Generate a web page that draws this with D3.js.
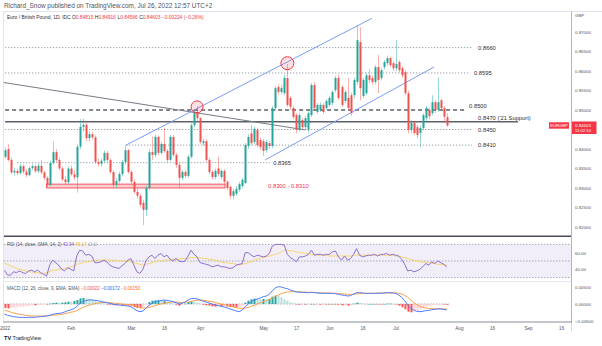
<!DOCTYPE html>
<html>
<head>
<meta charset="utf-8">
<script src="https://cdn.jsdelivr.net/npm/d3@7"></script>
<style>
html,body{margin:0;padding:0;background:#fff;}
svg{display:block;font-family:"Liberation Sans",Arial,sans-serif;}
</style>
</head>
<body>
<svg id="chart" width="602" height="346"></svg>
<script>
// EUR/GBP daily candles, 31 Dec 2021 – 26 Jul 2022 (one entry per trading day)
const openP = [0.8380,0.8400,0.8372,0.8340,0.8344,0.8338,0.8356,0.8342,0.8333,0.8351,0.8356,0.8343,0.8357,0.8340,0.8326,0.8308,0.8364,0.8392,0.8372,0.8350,
0.8322,0.8315,0.8350,0.8335,0.8327,0.8406,0.8457,0.8462,0.8428,0.8438,0.8430,0.8367,0.8362,0.8370,0.8390,0.8372,0.8341,0.8308,0.8318,0.8336,
0.8367,0.8397,0.8341,0.8316,0.8290,0.8280,0.8262,0.8244,0.8300,0.8392,0.8385,0.8431,0.8390,0.8413,0.8395,0.8372,0.8431,0.8385,0.8359,0.8326,
0.8341,0.8331,0.8380,0.8461,0.8495,0.8479,0.8415,0.8420,0.8372,0.8341,0.8328,0.8350,0.8328,0.8344,0.8316,0.8303,0.8280,0.8285,0.8296,0.8305,
0.8313,0.8408,0.8440,0.8418,0.8449,0.8423,0.8420,0.8397,0.8415,0.8408,0.8505,0.8559,0.8546,0.8543,0.8582,0.8531,0.8505,0.8487,0.8449,0.8474,
0.8456,0.8449,0.8487,0.8564,0.8495,0.8500,0.8513,0.8505,0.8513,0.8518,0.8551,0.8582,0.8559,0.8523,0.8531,0.8538,0.8538,0.8572,0.8674,0.8536,
0.8543,0.8589,0.8582,0.8572,0.8610,0.8582,0.8610,0.8620,0.8633,0.8620,0.8607,0.8623,0.8607,0.8597,0.8543,0.8449,0.8467,0.8456,0.8441,0.8454,
0.8479,0.8500,0.8492,0.8520,0.8500,0.8525,0.8505,0.84815];
const highP = [0.8404,0.8413,0.8378,0.8352,0.8350,0.8362,0.8360,0.8348,0.8356,0.8362,0.8360,0.8363,0.8372,0.8344,0.8330,0.8370,0.8419,0.8400,0.8378,0.8355,
0.8330,0.8356,0.8358,0.8345,0.8412,0.8477,0.8478,0.8468,0.8446,0.8443,0.8435,0.8375,0.8376,0.8396,0.8395,0.8376,0.8345,0.8325,0.8342,0.8372,
0.8410,0.8400,0.8346,0.8322,0.8298,0.8285,0.8270,0.8306,0.8400,0.8431,0.8436,0.8434,0.8418,0.8454,0.8400,0.8436,0.8436,0.8390,0.8364,0.8346,
0.8346,0.8385,0.8466,0.8500,0.8510,0.8482,0.8426,0.8425,0.8378,0.8346,0.8350,0.8380,0.8348,0.8348,0.8320,0.8306,0.8298,0.8305,0.8316,0.8326,
0.8415,0.8438,0.8462,0.8458,0.8455,0.8430,0.8426,0.8423,0.8420,0.8510,0.8562,0.8566,0.8563,0.8590,0.8618,0.8536,0.8510,0.8492,0.8492,0.8480,
0.8484,0.8497,0.8570,0.8572,0.8518,0.8520,0.8518,0.8528,0.8536,0.8551,0.8588,0.8590,0.8564,0.8551,0.8582,0.8545,0.8582,0.8718,0.8712,0.8582,
0.8595,0.8605,0.8588,0.8615,0.8641,0.8608,0.8628,0.8640,0.8638,0.8625,0.8679,0.8628,0.8612,0.8602,0.8550,0.8474,0.8472,0.8462,0.8460,0.8492,
0.8510,0.8505,0.8538,0.8525,0.8584,0.8530,0.8510,0.84916];
const lowP = [0.8375,0.8368,0.8335,0.8332,0.8333,0.8334,0.8336,0.8328,0.8330,0.8346,0.8338,0.8338,0.8335,0.8320,0.8302,0.8305,0.8360,0.8366,0.8345,0.8318,
0.8308,0.8310,0.8330,0.8320,0.8288,0.8400,0.8445,0.8420,0.8420,0.8424,0.8362,0.8355,0.8355,0.8364,0.8366,0.8336,0.8303,0.8300,0.8312,0.8330,
0.8360,0.8336,0.8310,0.8285,0.8272,0.8250,0.8205,0.8228,0.8295,0.8372,0.8378,0.8384,0.8385,0.8390,0.8366,0.8368,0.8380,0.8352,0.8300,0.8320,
0.8325,0.8326,0.8375,0.8455,0.8470,0.8412,0.8408,0.8366,0.8336,0.8322,0.8322,0.8330,0.8322,0.8308,0.8295,0.8272,0.8270,0.8280,0.8290,0.8300,
0.8310,0.8400,0.8410,0.8412,0.8404,0.8398,0.8382,0.8390,0.8400,0.8402,0.8498,0.8538,0.8540,0.8538,0.8508,0.8500,0.8476,0.8440,0.8444,0.8450,
0.8450,0.8440,0.8482,0.8498,0.8490,0.8495,0.8490,0.8500,0.8508,0.8512,0.8545,0.8525,0.8508,0.8518,0.8500,0.8485,0.8530,0.8565,0.8525,0.8530,
0.8538,0.8570,0.8565,0.8566,0.8543,0.8576,0.8604,0.8614,0.8610,0.8600,0.8600,0.8596,0.8582,0.8538,0.8440,0.8440,0.8436,0.8428,0.8405,0.8448,
0.8470,0.8476,0.8486,0.8492,0.8495,0.8498,0.8472,0.84566];
const closeP = [0.8397,0.8372,0.8340,0.8344,0.8338,0.8356,0.8342,0.8333,0.8351,0.8356,0.8343,0.8357,0.8340,0.8326,0.8308,0.8364,0.8392,0.8372,0.8350,0.8322,
0.8315,0.8350,0.8335,0.8327,0.8406,0.8457,0.8462,0.8428,0.8438,0.8430,0.8367,0.8362,0.8370,0.8390,0.8372,0.8341,0.8308,0.8318,0.8336,0.8367,
0.8397,0.8341,0.8316,0.8290,0.8280,0.8257,0.8244,0.8300,0.8392,0.8385,0.8431,0.8390,0.8413,0.8395,0.8372,0.8431,0.8385,0.8359,0.8326,0.8341,
0.8331,0.8380,0.8461,0.8495,0.8479,0.8418,0.8420,0.8372,0.8341,0.8328,0.8344,0.8336,0.8344,0.8316,0.8300,0.8280,0.8292,0.8298,0.8310,0.8321,
0.8410,0.8431,0.8415,0.8452,0.8410,0.8405,0.8395,0.8418,0.8408,0.8505,0.8556,0.8546,0.8556,0.8582,0.8513,0.8508,0.8482,0.8449,0.8487,0.8456,
0.8479,0.8492,0.8564,0.8505,0.8513,0.8513,0.8495,0.8523,0.8531,0.8546,0.8582,0.8531,0.8513,0.8546,0.8505,0.8492,0.8577,0.8679,0.8556,0.8577,
0.8589,0.8577,0.8572,0.8610,0.8577,0.8602,0.8623,0.8633,0.8615,0.8607,0.8618,0.8602,0.8589,0.8543,0.8449,0.8467,0.8441,0.8436,0.8454,0.8487,
0.8505,0.8484,0.8520,0.8500,0.8520,0.8505,0.84827,0.84603];

// RSI(14) and its 14-period SMA
const rsi = [39,33,33,37,36,38,36,35,38,39,37,39,36,34,32,45,51,48,45,40,
38,42,40,38,56,63,62,57,58,56,48,48,49,51,49,45,43,42,41,44,
47,51,53,45,37,35,40,50,55,57,53,57,59,55,57,52,50,53,50,49,
50,56,63,58,55,48,47,46,45,43,44,45,43,43,42,41,42,45,46,47,
60,60,57,55,57,56,55,56,59,68,70,70,70,69,58,54,52,49,55,55,
56,58,63,57,58,58,57,58,58,61,62,55,51,56,51,53,58,65,57,55,
56,57,57,58,56,58,58,59,57,58,57,56,52,46,38,39,37,38,40,43,
47,45,49,47,50,48,46,42.94];
const rsiMa = [47,46,44,43,41,40,39,38,37,37,36,36,35,35,36,37,39,39,40,40,
41,42,43,44,46,47,48,49,49,50,50,51,51,51,51,51,51,51,50,50,
50,50,49,48,47,46,45,46,47,48,49,50,50,51,51,51,52,52,52,53,
53,53,54,54,54,54,53,53,52,52,51,50,49,48,48,47,47,46,45,46,
47,48,49,51,52,53,54,55,56,57,58,59,61,63,63,62,62,61,60,60,
59,59,58,58,57,57,57,57,56,56,56,56,56,56,56,56,57,57,57,57,
57,57,57,57,57,57,57,57,57,57,56,56,55,54,53,52,51,50,49,49,
48,48,47,47,46,46,45.5,45.17];

// MACD(12, 26, close, 9): MACD line and signal line
const macd = [-0.00294,-0.00333,-0.00353,-0.00373,-0.00382,-0.00392,-0.00392,-0.00402,-0.00392,-0.00392,
-0.00392,-0.00382,-0.00373,-0.00363,-0.00353,-0.00333,-0.00304,-0.00284,-0.00275,-0.00265,
-0.00235,-0.00196,-0.00176,-0.00137,-0.00078,0.00020,0.00069,0.00098,0.00118,0.00118,
0.00108,0.00098,0.00078,0.00059,0.00039,0.00020,0.00000,-0.00020,-0.00029,-0.00039,
-0.00049,-0.00059,-0.00078,-0.00137,-0.00196,-0.00225,-0.00206,-0.00127,-0.00039,0.00020,
0.00059,0.00088,0.00098,0.00118,0.00108,0.00088,0.00069,0.00039,0.00000,0.00020,
0.00059,0.00118,0.00157,0.00167,0.00147,0.00118,0.00088,0.00059,0.00029,0.00000,
-0.00029,-0.00049,-0.00069,-0.00088,-0.00118,-0.00147,-0.00176,-0.00206,-0.00225,-0.00176,
-0.00078,0.00000,0.00069,0.00118,0.00147,0.00176,0.00216,0.00235,0.00284,0.00392,
0.00471,0.00510,0.00500,0.00471,0.00451,0.00412,0.00382,0.00353,0.00343,0.00343,
0.00333,0.00333,0.00343,0.00333,0.00324,0.00314,0.00314,0.00314,0.00314,0.00314,
0.00304,0.00284,0.00265,0.00255,0.00235,0.00245,0.00294,0.00333,0.00333,0.00324,
0.00314,0.00314,0.00314,0.00314,0.00314,0.00314,0.00324,0.00333,0.00333,0.00324,
0.00314,0.00265,0.00196,0.00098,-0.00029,-0.00127,-0.00176,-0.00216,-0.00225,-0.00216,
-0.00196,-0.00186,-0.00167,-0.00157,-0.00147,-0.00147,-0.00157,-0.00172];
const signal = [-0.00176,-0.00206,-0.00235,-0.00265,-0.00284,-0.00304,-0.00314,-0.00333,-0.00343,-0.00353,
-0.00353,-0.00353,-0.00353,-0.00353,-0.00343,-0.00343,-0.00333,-0.00324,-0.00314,-0.00304,
-0.00284,-0.00265,-0.00245,-0.00225,-0.00196,-0.00147,-0.00108,-0.00069,-0.00039,-0.00010,
0.00010,0.00029,0.00039,0.00049,0.00049,0.00039,0.00029,0.00020,0.00010,0.00000,
-0.00010,-0.00020,-0.00029,-0.00049,-0.00078,-0.00098,-0.00118,-0.00118,-0.00098,-0.00078,
-0.00049,-0.00020,0.00000,0.00020,0.00039,0.00049,0.00059,0.00059,0.00049,0.00039,
0.00049,0.00059,0.00078,0.00098,0.00108,0.00118,0.00108,0.00098,0.00078,0.00069,
0.00049,0.00020,0.00000,-0.00020,-0.00039,-0.00059,-0.00088,-0.00108,-0.00127,-0.00127,
-0.00118,-0.00098,-0.00069,-0.00039,0.00000,0.00039,0.00069,0.00098,0.00137,0.00176,
0.00225,0.00265,0.00304,0.00333,0.00353,0.00363,0.00363,0.00363,0.00363,0.00353,
0.00353,0.00343,0.00343,0.00343,0.00333,0.00333,0.00324,0.00324,0.00324,0.00314,
0.00314,0.00304,0.00304,0.00294,0.00284,0.00284,0.00284,0.00294,0.00304,0.00314,
0.00314,0.00314,0.00314,0.00314,0.00324,0.00324,0.00324,0.00324,0.00324,0.00324,
0.00324,0.00314,0.00294,0.00255,0.00196,0.00118,0.00039,-0.00020,-0.00069,-0.00098,
-0.00118,-0.00127,-0.00137,-0.00137,-0.00137,-0.00140,-0.00145,-0.00150];

// Time axis: trading-day index of each tick and its label
const tickIndex = [0,22,42,53,65,86,97,108,119,130,151,162,174,185];
const tickLabels = ["2022","Feb","Mar","16","Apr","May","17","Jun","16","Jul","Aug","16","Sep","16"];
const priceTicks = [0.870,0.865,0.860,0.855,0.850,0.845,0.840,0.835,0.830,0.825,0.820];
const rsiTicks = [60,40];
const macdTicks = [0.005,0,-0.005];

// Drawn support / resistance levels: price, span in trading days, style, label
const levels = [
  {p:0.8660, a:0.2, b:155.4, style:"dot",   label:"0.8660", li:157.4, dy:0},
  {p:0.8595, a:0.2, b:154.8, style:"dot",   label:"0.8595", li:156.0, dy:0},
  {p:0.8500, a:0.2, b:153.7, style:"dash",  label:"0.8500", li:154.4, dy:-4},
  {p:0.8470, a:0.2, b:170.7, style:"solid", label:"0.8470 ('21 Support)", li:157.4, dy:-4},
  {p:0.8450, a:0.2, b:155.4, style:"dot",   label:"0.8450", li:157.4, dy:0},
  {p:0.8410, a:40.4, b:155.4, style:"dot",  label:"0.8410", li:157.4, dy:0},
  {p:0.8365, a:4.2, b:88.2, style:"dot",    label:"0.8365", li:89.3, dy:0}
];
// Trend lines: start index/price to end index/price
const trendLines = [
  {a:-1.5, pa:0.8572, b:99.9, pb:0.8449, color:"#787b86"},
  {a:40.4, pa:0.8410, b:122.1, pb:0.8735, color:"#7b9cf2"},
  {a:86.6, pa:0.8372, b:142.7, pb:0.8610, color:"#7b9cf2"}
];
const zone = {a:14, b:73.3, lo:0.8300, hi:0.8310, label:"0.8300 - 0.8310", li:87.6};
const rings = [{i:64, p:0.8508, r:6}, {i:94, p:0.8620, r:6.5}];

const svg = d3.select("#chart");
const N = closeP.length;
const idx = d3.range(N);
const last = N - 1;

const x = d3.scaleLinear().domain([0, 185]).range([4.5, 4.5 + 185 * 3.009]);
const y = d3.scaleLinear().domain([0.82, 0.87]).range([227, 32]);
const yR = d3.scaleLinear().domain([40, 60]).range([269.3, 252.7]);
const yM = d3.scaleLinear().domain([-0.005, 0.005]).range([321, 287]);

const UP = "#26a69a", DN = "#ef5350";
const AX = 571;
const FONT = "Liberation Sans, Arial, sans-serif";
const f5 = d3.format(".5f");

// header
svg.append("text").attr("x", 4).attr("y", 7.6).attr("font-size", 6.4).attr("fill", "#50535e")
  .text("Richard_Snow published on TradingView.com, Jul 26, 2022 12:57 UTC+2");
svg.append("line").attr("x1", 3).attr("x2", 602).attr("y1", 11.5).attr("y2", 11.5)
  .attr("stroke", "#e0e3eb").attr("stroke-width", 1);
svg.append("line").attr("x1", 3.5).attr("x2", 3.5).attr("y1", 11.5).attr("y2", 322)
  .attr("stroke", "#e0e3eb").attr("stroke-width", 1);

// clip regions for the three panes
const defs = svg.append("defs");
defs.append("clipPath").attr("id", "cMain").append("rect").attr("x", 4).attr("y", 12).attr("width", AX - 4).attr("height", 223);
defs.append("clipPath").attr("id", "cRsi").append("rect").attr("x", 4).attr("y", 237.5).attr("width", AX - 4).attr("height", 43.5);
defs.append("clipPath").attr("id", "cMacd").append("rect").attr("x", 4).attr("y", 282).attr("width", AX - 4).attr("height", 39.5);

// ---------- main pane ----------
const main = svg.append("g").attr("clip-path", "url(#cMain)");

// red support zone
main.append("rect")
  .attr("x", x(zone.a)).attr("width", x(zone.b) - x(zone.a))
  .attr("y", y(zone.hi)).attr("height", y(zone.lo) - y(zone.hi))
  .attr("fill", "rgba(242,54,69,0.25)").attr("stroke", "#f23645").attr("stroke-width", 0.8);

// horizontal levels
levels.forEach(l => {
  const ln = main.append("line")
    .attr("x1", x(l.a)).attr("x2", x(l.b))
    .attr("y1", y(l.p)).attr("y2", y(l.p));
  if (l.style === "dot") ln.attr("stroke", "#8a8d96").attr("stroke-width", 0.9).attr("stroke-dasharray", "1.2,1.8");
  else if (l.style === "dash") ln.attr("stroke", "#5d606b").attr("stroke-width", 1.4).attr("stroke-dasharray", "4,3");
  else ln.attr("stroke", "#5d606b").attr("stroke-width", 1.4);
});

// trend lines
trendLines.forEach(t => {
  main.append("line")
    .attr("x1", x(t.a)).attr("y1", y(t.pa)).attr("x2", x(t.b)).attr("y2", y(t.pb))
    .attr("stroke", t.color).attr("stroke-width", 1);
});

// candles
const cg = main.append("g");
cg.selectAll("line.wick").data(idx).join("line")
  .attr("class", "wick")
  .attr("x1", i => Math.round(x(i)) + 0.5).attr("x2", i => Math.round(x(i)) + 0.5)
  .attr("y1", i => y(highP[i])).attr("y2", i => y(lowP[i]))
  .attr("stroke", i => closeP[i] >= openP[i] ? "rgba(38,166,154,0.45)" : "rgba(239,83,80,0.45)")
  .attr("stroke-width", 1);
cg.selectAll("rect.body").data(idx).join("rect")
  .attr("class", "body")
  .attr("x", i => Math.round(x(i)) - 0.5).attr("width", 2)
  .attr("y", i => y(Math.max(openP[i], closeP[i])))
  .attr("height", i => Math.max(0.8, Math.abs(y(openP[i]) - y(closeP[i]))))
  .attr("fill", i => closeP[i] >= openP[i] ? UP : DN);

// highlighted touches
rings.forEach(r => {
  main.append("circle").attr("cx", x(r.i)).attr("cy", y(r.p)).attr("r", r.r)
    .attr("fill", "rgba(242,54,69,0.15)").attr("stroke", "#f23645").attr("stroke-width", 1);
});

// level labels
levels.forEach(l => {
  svg.append("text").attr("x", x(l.li)).attr("y", y(l.p) + l.dy)
    .attr("dy", "0.35em").attr("font-size", 5.8).attr("fill", "#2a2e39")
    .text(l.label);
});
svg.append("text").attr("x", x(zone.li)).attr("y", y((zone.lo + zone.hi) / 2))
  .attr("dy", "0.35em").attr("font-size", 5.8).attr("fill", "#f23645").text(zone.label);

// legend
const chg = closeP[last] - closeP[last - 1];
const leg = svg.append("text").attr("x", 7).attr("y", 18.8).attr("font-size", 4.9).attr("fill", "#2a2e39");
leg.append("tspan").text("Euro / British Pound, 1D, IDC  ");
[["O", openP[last]], ["H", highP[last]], ["L", lowP[last]], ["C", closeP[last]]].forEach(([k, v]) => {
  leg.append("tspan").text(k);
  leg.append("tspan").attr("fill", "#f23645").text(f5(v) + "  ");
});
leg.append("tspan").attr("fill", "#f23645")
  .text(f5(chg).replace("-", "\u2212") + " (" + d3.format(".2f")(chg / closeP[last - 1] * 100).replace("-", "\u2212") + "%)");

// right-hand scale strip
svg.append("line").attr("x1", AX + 0.5).attr("x2", AX + 0.5).attr("y1", 11.5).attr("y2", 331)
  .attr("stroke", "#b2b5be").attr("stroke-width", 1);

// price axis
const pax = svg.append("g").attr("transform", `translate(${AX},0)`)
  .call(d3.axisRight(y).tickValues(priceTicks).tickFormat(f5).tickSize(0).tickPadding(4));
pax.select(".domain").remove();
pax.selectAll("text").attr("font-size", 4.4).attr("fill", "#50535e").attr("font-family", FONT);
svg.append("text").attr("x", 575).attr("y", 17).attr("font-size", 4.4).attr("fill", "#50535e").text("GBP");

// price tag + symbol tag
const ty = y(closeP[last]);
svg.append("rect").attr("x", 549).attr("y", ty - 3.2).attr("width", 20).attr("height", 6.4).attr("fill", "#f23645");
svg.append("text").attr("x", 559).attr("y", ty).attr("dy", "0.35em").attr("text-anchor", "middle")
  .attr("font-size", 4.2).attr("fill", "#fff").text("EURGBP");
svg.append("rect").attr("x", AX + 1).attr("y", ty - 4).attr("width", 24.5).attr("height", 12.5).attr("fill", "#f23645");
svg.append("text").attr("x", AX + 4).attr("y", ty).attr("dy", "0.35em").attr("font-size", 4.4).attr("fill", "#fff").text(f5(closeP[last]));
svg.append("text").attr("x", AX + 4).attr("y", ty + 5.4).attr("dy", "0.35em").attr("font-size", 4.2).attr("fill", "#fff").text("11:02:10");

// ---------- RSI pane ----------
svg.append("line").attr("x1", 4).attr("x2", AX).attr("y1", 236.2).attr("y2", 236.2).attr("stroke", "#4a4d57").attr("stroke-width", 1.6);
const rp = svg.append("g").attr("clip-path", "url(#cRsi)");
rp.append("rect").attr("x", 4).attr("width", AX - 4).attr("y", yR(70)).attr("height", yR(30) - yR(70)).attr("fill", "rgba(126,87,194,0.1)");
[70, 50, 30].forEach(v => rp.append("line").attr("x1", 4).attr("x2", AX).attr("y1", yR(v)).attr("y2", yR(v))
  .attr("stroke", "#9598a1").attr("stroke-width", 0.8).attr("stroke-dasharray", "1.5,1.5"));
rp.append("path").datum(idx).attr("fill", "none").attr("stroke", "#f5d66b").attr("stroke-width", 1)
  .attr("d", d3.line().x(i => x(i)).y(i => yR(rsiMa[i])));
rp.append("path").datum(idx).attr("fill", "none").attr("stroke", "#8e6fd1").attr("stroke-width", 1)
  .attr("d", d3.line().x(i => x(i)).y(i => yR(rsi[i])));
const rl = svg.append("text").attr("x", 7).attr("y", 245.6).attr("font-size", 4.5).attr("fill", "#50535e");
rl.append("tspan").text("RSI (14, close, SMA, 14, 2)  ");
rl.append("tspan").attr("fill", "#7e57c2").text(d3.format(".2f")(rsi[last]) + "  ");
rl.append("tspan").attr("fill", "#e6b93a").text(d3.format(".2f")(rsiMa[last]) + "  ");
rl.append("tspan").attr("fill", "#8a8d96").text("\u2205  \u2205");
const rax = svg.append("g").attr("transform", `translate(${AX},0)`)
  .call(d3.axisRight(yR).tickValues(rsiTicks).tickFormat(d3.format(".2f")).tickSize(0).tickPadding(4));
rax.select(".domain").remove();
rax.selectAll("text").attr("font-size", 4.4).attr("fill", "#50535e").attr("font-family", FONT);

// ---------- MACD pane ----------
svg.append("line").attr("x1", 4).attr("x2", AX).attr("y1", 281.5).attr("y2", 281.5).attr("stroke", "#e0e3eb").attr("stroke-width", 0.8);
const mp = svg.append("g").attr("clip-path", "url(#cMacd)");
mp.append("line").attr("x1", 4).attr("x2", x(last) + 2).attr("y1", yM(0)).attr("y2", yM(0))
  .attr("stroke", "#9598a1").attr("stroke-width", 0.8).attr("stroke-dasharray", "1.5,1.5");
const hist = idx.map(i => macd[i] - signal[i]);
mp.selectAll("rect.h").data(idx).join("rect").attr("class", "h")
  .attr("x", i => Math.round(x(i)) - 0.5).attr("width", 2)
  .attr("y", i => Math.min(yM(hist[i]), yM(0)))
  .attr("height", i => Math.max(0.5, Math.abs(yM(hist[i]) - yM(0))))
  .attr("fill", i => {
    const h = hist[i], p = i > 0 ? hist[i - 1] : h;
    if (h >= 0) return h >= p ? "#26a69a" : "#b2dfdb";
    return h <= p ? "#ff5252" : "#ffcdd2";
  });
mp.append("path").datum(idx).attr("fill", "none").attr("stroke", "#f9a04b").attr("stroke-width", 1)
  .attr("d", d3.line().x(i => x(i)).y(i => yM(signal[i])));
mp.append("path").datum(idx).attr("fill", "none").attr("stroke", "#4f7cff").attr("stroke-width", 1)
  .attr("d", d3.line().x(i => x(i)).y(i => yM(macd[i])));
const ml = svg.append("text").attr("x", 7).attr("y", 290).attr("font-size", 4.5).attr("fill", "#50535e");
ml.append("tspan").text("MACD (12, 26, close, 9, EMA, EMA)  ");
ml.append("tspan").attr("fill", "#ff5252").text(f5(hist[last]).replace("-", "\u2212") + "  ");
ml.append("tspan").attr("fill", "#2962ff").text(f5(macd[last]).replace("-", "\u2212") + "  ");
ml.append("tspan").attr("fill", "#ff6d00").text(f5(signal[last]).replace("-", "\u2212"));
const max = svg.append("g").attr("transform", `translate(${AX},0)`)
  .call(d3.axisRight(yM).tickValues(macdTicks).tickFormat(d => f5(d).replace("-", "\u2212")).tickSize(0).tickPadding(4));
max.select(".domain").remove();
max.selectAll("text").attr("font-size", 4.4).attr("fill", "#50535e").attr("font-family", FONT);

// ---------- time axis ----------
svg.append("rect").attr("x", 0).attr("y", 322).attr("width", AX + 0.5).attr("height", 9).attr("fill", "#fff");
svg.append("line").attr("x1", 3).attr("x2", AX + 1).attr("y1", 322).attr("y2", 322).attr("stroke", "#8a8d96").attr("stroke-width", 1);
const xax = svg.append("g").attr("transform", "translate(0,322)")
  .call(d3.axisBottom(x).tickValues(tickIndex).tickFormat((d, k) => tickLabels[k]).tickSize(0).tickPadding(4.5));
xax.select(".domain").remove();
xax.selectAll("text").attr("font-size", 4.6).attr("fill", "#50535e").attr("font-family", FONT);

// footer logo
const logo = svg.append("g").attr("transform", "translate(4,338)");
logo.append("text").attr("x", 0).attr("y", 2).attr("font-size", 5.6).attr("font-weight", "bold").attr("fill", "#131722").text("TV");
logo.append("text").attr("x", 8.5).attr("y", 2).attr("font-size", 5.2).attr("fill", "#131722").text("TradingView");
</script>
</body>
</html>
